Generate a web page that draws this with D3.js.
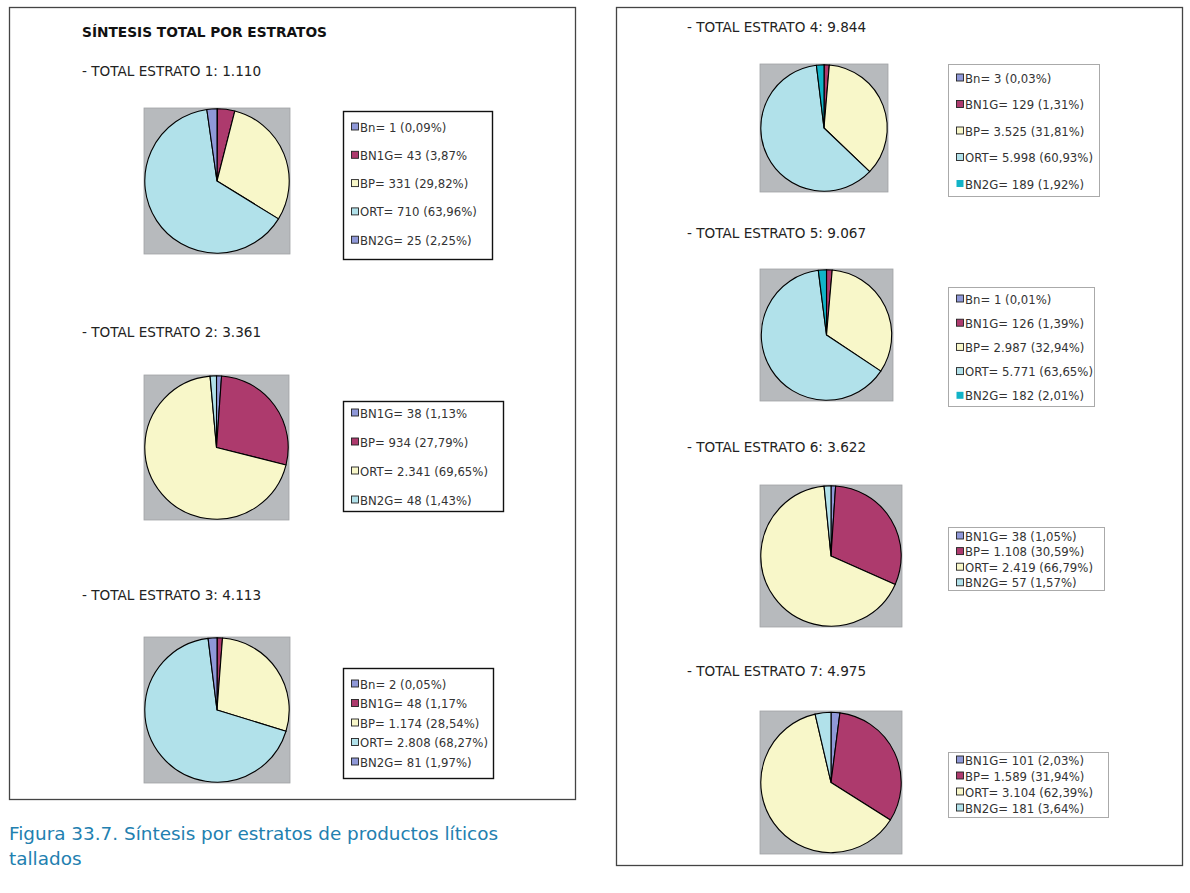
<!DOCTYPE html>
<html><head><meta charset="utf-8">
<script src="https://cdn.jsdelivr.net/npm/d3@7/dist/d3.min.js"></script>
<style>
body{margin:0;background:#fff;}
svg text{font-family:"DejaVu Sans","Open Sans",sans-serif;}
</style></head>
<body><svg id="c" width="1190" height="893"></svg>
<script>
// ---- data ----
const chartTitles = ["- TOTAL ESTRATO 1: 1.110","- TOTAL ESTRATO 2: 3.361","- TOTAL ESTRATO 3: 4.113",
  "- TOTAL ESTRATO 4: 9.844","- TOTAL ESTRATO 5: 9.067","- TOTAL ESTRATO 6: 3.622","- TOTAL ESTRATO 7: 4.975"];
const cats1 = ["Bn","BN1G","BP","ORT","BN2G"];
const vals1 = [1,43,331,710,25];
const labels1 = ["Bn= 1 (0,09%)","BN1G= 43 (3,87%","BP= 331 (29,82%)","ORT= 710 (63,96%)","BN2G= 25 (2,25%)"];
const cats2 = ["BN1G","BP","ORT","BN2G"];
const vals2 = [38,934,2341,48];
const labels2 = ["BN1G= 38 (1,13%","BP= 934 (27,79%)","ORT= 2.341 (69,65%)","BN2G= 48 (1,43%)"];
const cats3 = ["Bn","BN1G","BP","ORT","BN2G"];
const vals3 = [2,48,1174,2808,81];
const labels3 = ["Bn= 2 (0,05%)","BN1G= 48 (1,17%","BP= 1.174 (28,54%)","ORT= 2.808 (68,27%)","BN2G= 81 (1,97%)"];
const cats4 = ["Bn","BN1G","BP","ORT","BN2G"];
const vals4 = [3,129,3525,5998,189];
const labels4 = ["Bn= 3 (0,03%)","BN1G= 129 (1,31%)","BP= 3.525 (31,81%)","ORT= 5.998 (60,93%)","BN2G= 189 (1,92%)"];
const cats5 = ["Bn","BN1G","BP","ORT","BN2G"];
const vals5 = [1,126,2987,5771,182];
const labels5 = ["Bn= 1 (0,01%)","BN1G= 126 (1,39%)","BP= 2.987 (32,94%)","ORT= 5.771 (63,65%)","BN2G= 182 (2,01%)"];
const cats6 = ["BN1G","BP","ORT","BN2G"];
const vals6 = [38,1108,2419,57];
const labels6 = ["BN1G= 38 (1,05%)","BP= 1.108 (30,59%)","ORT= 2.419 (66,79%)","BN2G= 57 (1,57%)"];
const cats7 = ["BN1G","BP","ORT","BN2G"];
const vals7 = [101,1589,3104,181];
const labels7 = ["BN1G= 101 (2,03%)","BP= 1.589 (31,94%)","ORT= 3.104 (62,39%)","BN2G= 181 (3,64%)"];

// ---- styles / layout ----
const PERI="#8f98d8", MAROON="#ad3a6d", YEL="#f8f7c9", CYAN="#b1e1ea", TEAL="#12b3c7";
const palA=[PERI,MAROON,YEL,CYAN,PERI], palB=[PERI,MAROON,YEL,CYAN,TEAL];
const charts = [
 {cats:cats1,vals:vals1,labels:labels1,pal:palA,tx:82,ty:76,box:[144,108,146,146],leg:[343,111,149,148],ly0:127,ldy:28.3,lborder:"#111"},
 {cats:cats2,vals:vals2,labels:labels2,pal:palA,tx:82,ty:337,box:[144,375,145,145],leg:[343,401,160,110],ly0:413,ldy:29,lborder:"#111"},
 {cats:cats3,vals:vals3,labels:labels3,pal:palA,tx:82,ty:600,box:[144,637,146,146],leg:[343,668,150,110],ly0:684,ldy:19.5,lborder:"#111"},
 {cats:cats4,vals:vals4,labels:labels4,pal:palB,tx:687,ty:32,box:[760,64,128,128],leg:[948,64,151,132],ly0:78,ldy:26.5,lborder:"#aaa"},
 {cats:cats5,vals:vals5,labels:labels5,pal:palB,tx:687,ty:238,box:[760,269,133,132],leg:[948,287,146,119],ly0:299,ldy:24.2,lborder:"#aaa"},
 {cats:cats6,vals:vals6,labels:labels6,pal:palA,tx:687,ty:452,box:[760,485,142,142],leg:[948,527,156,63],ly0:536,ldy:15.6,lborder:"#aaa"},
 {cats:cats7,vals:vals7,labels:labels7,pal:palA,tx:687,ty:676,box:[760,711,142,143],leg:[948,752,160,65],ly0:760,ldy:16,lborder:"#aaa"}
];
const svg = d3.select("#c");

// panels
svg.append("rect").attr("x",9.5).attr("y",7.5).attr("width",566).attr("height",792).attr("fill","none").attr("stroke","#444").attr("stroke-width",1.3);
svg.append("rect").attr("x",616.5).attr("y",7.5).attr("width",566).attr("height",858).attr("fill","none").attr("stroke","#444").attr("stroke-width",1.3);

svg.append("text").attr("x",82).attr("y",37).attr("font-size",14).attr("font-weight","bold").attr("fill","#111").attr("textLength",245).attr("lengthAdjust","spacingAndGlyphs").text("SÍNTESIS TOTAL POR ESTRATOS");

const pie = d3.pie().sort(null).value(d=>d);
charts.forEach((c,i)=>{
  const g = svg.append("g");
  g.append("text").attr("x",c.tx).attr("y",c.ty).attr("font-size",13.6).attr("fill","#222").text(chartTitles[i]);
  const [bx,by,bw,bh]=c.box;
  g.append("rect").attr("x",bx).attr("y",by).attr("width",bw).attr("height",bh).attr("fill","#b7babd").attr("stroke","#a0a3a6").attr("stroke-width",0.8);
  const color = d3.scaleOrdinal().domain(d3.range(c.vals.length)).range(c.pal);
  const r = Math.min(bw,bh)/2 - 0.8;
  const arc = d3.arc().innerRadius(0).outerRadius(r);
  const pg = g.append("g").attr("transform",`translate(${bx+bw/2},${by+bh/2})`);
  pg.selectAll("path").data(pie(c.vals)).join("path")
    .attr("d",arc).attr("fill",(d,j)=>color(j)).attr("stroke","#000").attr("stroke-width",1.1).attr("stroke-linejoin","round");
  const [lx,ly,lw,lh]=c.leg;
  g.append("rect").attr("x",lx+0.5).attr("y",ly+0.5).attr("width",lw).attr("height",lh).attr("fill","#fff").attr("stroke",c.lborder).attr("stroke-width",c.lborder==="#111"?1.4:1);
  const ys = d3.scaleLinear().domain([0,1]).range([c.ly0,c.ly0+c.ldy]);
  c.labels.forEach((t,j)=>{
    const y = ys(j);
    const teal = c.pal[j]===TEAL;
    g.append("rect").attr("x",lx+8.5).attr("y",y-4).attr("width",7).attr("height",7)
      .attr("fill",color(j)).attr("stroke",teal?"none":"#222").attr("stroke-width",0.9);
    g.append("text").attr("x",lx+17).attr("y",y+4.5).attr("font-size",11.7).attr("fill","#333").text(t);
  });
});

svg.append("text").attr("x",9).attr("y",840).attr("font-size",18.4).attr("fill","#2280b0").text("Figura 33.7. Síntesis por estratos de productos líticos");
svg.append("text").attr("x",9).attr("y",865).attr("font-size",18.4).attr("fill","#2280b0").text("tallados");
</script></body></html>
